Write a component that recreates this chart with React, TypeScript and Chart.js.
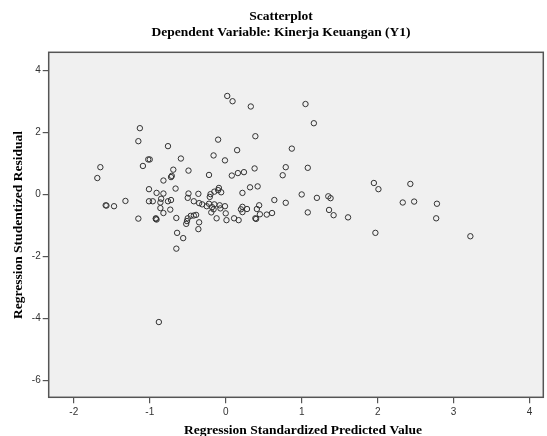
import React, { useEffect, useRef } from "react";
import { Chart, registerables } from "chart.js";

Chart.register(...registerables);

const titleText = "Scatterplot";
const subtitleText = "Dependent Variable: Kinerja Keuangan (Y1)";
const xAxisTitle = "Regression Standardized Predicted Value";
const yAxisTitle = "Regression Studentized Residual";

const xTickValues = [-2, -1, 0, 1, 2, 3, 4];
const yTickValues = [-6, -4, -2, 0, 2, 4];

// Regression standardized predicted values
const predictedValues = [
  -1.65, -1.69, -1.58, -1.57, -1.47, -1.32, -1.13, -1.15, -1.02, -1.0,
  -1.09, -1.15, -1.01, -1.01, -0.96, -0.91, -0.82, -0.85, -0.86, -0.86,
  -0.82, -0.92, -0.91, -0.92, -0.88, -0.76, -0.59, -0.69, -0.71, -0.72,
  -0.82, -0.49, -0.66, -0.76, -0.72, -0.73, -0.65, -0.64, -0.56, -0.65,
  -0.36, -0.49, -0.5, -0.36, -0.42, -0.35, -0.31, -0.51, -0.5, -0.52,
  -0.46, -0.42, -0.39, -0.35, -0.22, -0.16, -0.01, 0.15, -0.1, -0.2,
  -0.21, -0.15, -0.09, -0.1, -0.06, -0.25, -0.22, -0.15, -0.18, -0.19,
  -0.16, -0.08, -0.07, -0.01, 0.0, -0.12, 0.01, 0.02, 0.09, 0.33,
  1.05, 1.16, 0.39, 0.87, 0.08, 0.16, 0.24, 0.38, 0.79, 0.75,
  1.08, 0.32, 0.42, 0.22, 1.0, 1.2, 1.35, 1.38, 0.64, 0.79,
  0.22, 0.2, 0.22, 0.28, 0.44, 0.41, 0.45, 0.54, 0.61, 1.08,
  1.36, 1.42, 1.61, 0.11, 0.17, 0.39, 0.4, 1.95, 2.01, 2.43,
  2.33, 2.48, 2.78, 2.77, 1.97, 3.22,
];

// Regression studentized residuals
const residualValues = [
  0.88, 0.53, -0.35, -0.36, -0.38, -0.21, 2.14, 1.72, 1.13, 1.13,
  0.92, -0.78, 0.17, -0.22, -0.22, 0.05, 0.03, -0.14, -0.26, -0.44,
  -0.6, -0.79, -0.81, -0.77, -4.12, 1.56, 1.16, 0.8, 0.6, 0.56,
  0.45, 0.77, 0.19, -0.22, -0.18, -0.49, -0.76, -1.24, -1.41, -1.75,
  -1.12, 0.03, -0.11, 0.02, -0.22, -0.28, -0.32, -0.86, -0.77, -0.95,
  -0.69, -0.68, -0.66, -0.9, 0.63, 1.26, 1.1, 1.43, 1.77, 0.01,
  -0.08, 0.09, 0.21, 0.14, 0.07, -0.38, -0.3, -0.32, -0.41, -0.58,
  -0.48, -0.35, -0.45, -0.38, -0.61, -0.77, -0.83, 3.18, 3.01, 2.84,
  2.92, 2.3, 1.88, 1.48, 0.61, 0.69, 0.72, 0.84, 0.88, 0.62,
  0.86, 0.23, 0.26, 0.05, 0.0, -0.11, -0.06, -0.12, -0.18, -0.27,
  -0.4, -0.48, -0.57, -0.47, -0.35, -0.47, -0.64, -0.65, -0.6, -0.58,
  -0.5, -0.67, -0.74, -0.77, -0.83, -0.77, -0.79, 0.37, 0.17, 0.34,
  -0.26, -0.23, -0.3, -0.77, -1.24, -1.35,
];

const serifBold = 'bold 13.5px "Times New Roman", "Liberation Serif", serif';

const framePlugin = {
  id: "spssFrame",
  beforeDraw(chart: any) {
    const { ctx, chartArea } = chart;
    const { left, top, right, bottom } = chartArea;
    ctx.save();
    ctx.fillStyle = "#f0f0f0";
    ctx.fillRect(left, top, right - left, bottom - top);
    ctx.restore();
  },
  afterDraw(chart: any) {
    const { ctx, chartArea } = chart;
    const { left, top, right, bottom } = chartArea;
    ctx.save();
    ctx.strokeStyle = "#555555";
    ctx.lineWidth = 1.5;
    ctx.strokeRect(left, top, right - left, bottom - top);

    ctx.fillStyle = "#000000";
    ctx.font = serifBold;
    ctx.textAlign = "center";
    ctx.textBaseline = "middle";
    ctx.fillText(titleText, 281, 17);
    ctx.fillText(subtitleText, 281, 33);
    ctx.fillText(xAxisTitle, 303, 430.5);
    ctx.translate(18.5, 225);
    ctx.rotate(-Math.PI / 2);
    ctx.fillText(yAxisTitle, 0, 0);
    ctx.restore();
  },
};

export default function App() {
  const canvasRef = useRef<HTMLCanvasElement | null>(null);

  useEffect(() => {
    document.body.style.margin = "0";
    const canvas = canvasRef.current;
    if (!canvas) return;
    const points = predictedValues.map((x, i) => ({ x, y: residualValues[i] }));
    const tickFont = { family: 'Arial, "Liberation Sans", sans-serif', size: 10 };

    const chart = new Chart(canvas, {
      type: "scatter",
      data: {
        datasets: [
          {
            data: points,
            pointStyle: "circle",
            pointRadius: 2.7,
            pointBorderWidth: 1,
            pointBorderColor: "#333333",
            pointBackgroundColor: "rgba(0,0,0,0)",
            pointHoverRadius: 2.7,
          },
        ],
      },
      options: {
        animation: false,
        responsive: false,
        maintainAspectRatio: false,
        devicePixelRatio: 1,
        layout: { padding: { top: 52.3, right: 0.5, bottom: 0, left: 0 } },
        plugins: {
          legend: { display: false },
          tooltip: { enabled: false },
          title: { display: false },
        },
        scales: {
          x: {
            type: "linear",
            min: -2.33,
            max: 4.18,
            afterBuildTicks: (s: any) => {
              s.ticks = xTickValues.map((v) => ({ value: v }));
            },
            afterFit: (s: any) => {
              s.height = 38.7;
            },
            border: { display: false },
            grid: {
              display: true,
              drawOnChartArea: false,
              drawTicks: true,
              tickLength: 6,
              color: "#555555",
              lineWidth: 1.2,
            },
            ticks: {
              font: tickFont,
              color: "#333333",
              padding: 3,
              maxRotation: 0,
              autoSkip: false,
              callback: (v: any) => String(v),
            },
          },
          y: {
            type: "linear",
            min: -6.55,
            max: 4.59,
            afterBuildTicks: (s: any) => {
              s.ticks = yTickValues.map((v) => ({ value: v }));
            },
            afterFit: (s: any) => {
              s.width = 48.7;
            },
            border: { display: false },
            grid: {
              display: true,
              drawOnChartArea: false,
              drawTicks: true,
              tickLength: 6,
              color: "#555555",
              lineWidth: 1.2,
            },
            ticks: {
              font: tickFont,
              color: "#333333",
              padding: 2,
              autoSkip: false,
              callback: (v: any) => String(v),
            },
          },
        },
      },
      plugins: [framePlugin],
    });

    return () => {
      chart.destroy();
    };
  }, []);

  return (
    <div style={{ width: 547, height: 436 }}>
      <canvas ref={canvasRef} width={547} height={436} style={{ display: "block", width: 547, height: 436 }} />
    </div>
  );
}
